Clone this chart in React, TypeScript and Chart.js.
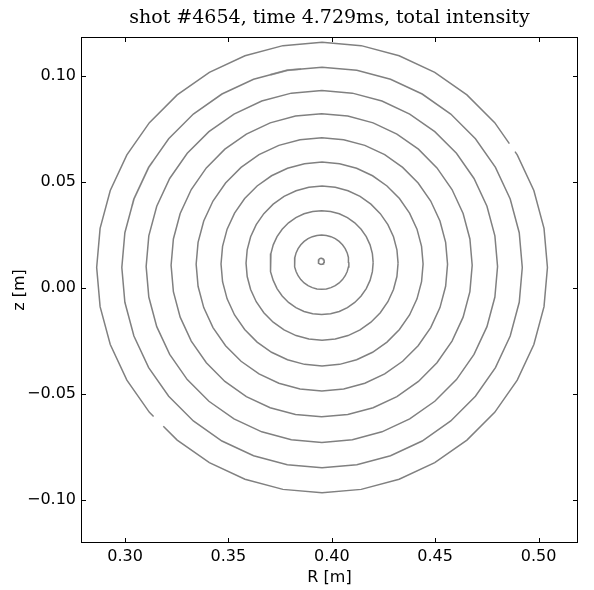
import React, { useEffect, useRef } from "react";
import { Chart, registerables } from "chart.js";

Chart.register(...registerables);

// ---- text ----
const titleText = "shot #4654, time 4.729ms, total intensity";
const xLabel = "R [m]";
const yLabel = "z [m]";

// ---- axes ----
const xTicks = [0.3, 0.35, 0.4, 0.45, 0.5];
const yTicks = [-0.1, -0.05, 0.0, 0.05, 0.1];
const xRange = [0.2787, 0.5191];
const yRange = [-0.1204, 0.1185];

// ---- contour rings (outer -> inner, last is the tiny core ring) ----
const ringCenterR = [0.3953, 0.3953, 0.3952, 0.3951, 0.3952, 0.3953, 0.3953, 0.3951, 0.3951, 0.3949];
const ringCenterZ = [0.00967, 0.00967, 0.01017, 0.01071, 0.01118, 0.01132, 0.01172, 0.01198, 0.01219, 0.01259];
const ringRadiusR = [0.10902, 0.09685, 0.08499, 0.07282, 0.0608, 0.04887, 0.03677, 0.02492, 0.01316, 0.00145];
const ringRadiusZ = [0.10637, 0.09458, 0.08309, 0.07156, 0.05976, 0.04811, 0.03639, 0.02453, 0.01281, 0.00142];
const vertexStepDeg = 10;

// breaks in the drawn contours (ring index, angle range in degrees)
const gapRing = [0, 0];
const gapFromDeg = [31, 221.5];
const gapToDeg = [33.5, 225];

// faded stretches of contours
const fadeRing = [1, 1];
const fadeFromDeg = [96, 148];
const fadeToDeg = [105, 162];
const fadeColor = ["#b8b8b8", "#e0e0e0"];

const lineColor = "#808080";

function vertex(i: number, k: number) {
  const a = (k * vertexStepDeg * Math.PI) / 180;
  return {
    x: ringCenterR[i] + ringRadiusR[i] * Math.cos(a),
    y: ringCenterZ[i] + ringRadiusZ[i] * Math.sin(a),
  };
}

function pointAt(i: number, deg: number) {
  const k0 = Math.floor(deg / vertexStepDeg);
  const t = (deg - k0 * vertexStepDeg) / vertexStepDeg;
  const p0 = vertex(i, k0);
  const p1 = vertex(i, k0 + 1);
  return { x: p0.x + (p1.x - p0.x) * t, y: p0.y + (p1.y - p0.y) * t };
}

function ringPoints(i: number) {
  const pts: any[] = [];
  const n = 360 / vertexStepDeg;
  for (let k = 0; k <= n; k++) {
    pts.push(vertex(i, k));
    if (k === n) break;
    const a0 = k * vertexStepDeg;
    const a1 = a0 + vertexStepDeg;
    gapRing.forEach((r, g) => {
      if (r === i && gapFromDeg[g] > a0 && gapFromDeg[g] < a1) {
        const s = pointAt(i, gapFromDeg[g]);
        const e = pointAt(i, gapToDeg[g]);
        pts.push(s);
        pts.push({ x: s.x, y: null });
        pts.push(e);
      }
    });
  }
  return pts;
}

function fadePoints(f: number) {
  const i = fadeRing[f];
  const pts: any[] = [pointAt(i, fadeFromDeg[f])];
  for (let a = Math.ceil(fadeFromDeg[f] / vertexStepDeg) * vertexStepDeg; a < fadeToDeg[f]; a += vertexStepDeg) {
    pts.push(vertex(i, a / vertexStepDeg));
  }
  pts.push(pointAt(i, fadeToDeg[f]));
  return pts;
}

const fmt = (v: number) => {
  const s = Math.abs(v) < 1e-9 ? "0.00" : v.toFixed(2);
  return s.replace("-", "\u2212");
};

const framePlugin = {
  id: "frameTicksTitle",
  afterDatasetsDraw(chart: any) {
    const { ctx, chartArea } = chart;
    const { left, right, top, bottom } = chartArea;
    const xs = chart.scales.x;
    const ys = chart.scales.y;
    ctx.save();
    ctx.strokeStyle = "#000";
    ctx.lineWidth = 1;
    ctx.strokeRect(left + 0.5, top + 0.5, right - left - 1, bottom - top - 1);
    const L = 5;
    ctx.beginPath();
    xTicks.forEach((v) => {
      const p = Math.round(xs.getPixelForValue(v)) + 0.5;
      ctx.moveTo(p, bottom);
      ctx.lineTo(p, bottom - L);
      ctx.moveTo(p, top);
      ctx.lineTo(p, top + L);
    });
    yTicks.forEach((v) => {
      const p = Math.round(ys.getPixelForValue(v)) + 0.5;
      ctx.moveTo(left, p);
      ctx.lineTo(left + L, p);
      ctx.moveTo(right, p);
      ctx.lineTo(right - L, p);
    });
    ctx.stroke();
    ctx.fillStyle = "#000";
    ctx.font = '19px "DejaVu Serif"';
    ctx.textAlign = "center";
    ctx.textBaseline = "middle";
    ctx.fillText(titleText, (left + right) / 2, 18);
    ctx.restore();
  },
};

export default function App() {
  const ref = useRef<HTMLCanvasElement | null>(null);
  useEffect(() => {
    if (!ref.current) return;
    const datasets: any[] = [];
    ringCenterR.forEach((_, i) => {
      datasets.push({
        data: ringPoints(i),
        showLine: true,
        borderColor: lineColor,
        borderWidth: 1.5,
        pointRadius: 0,
        tension: 0,
        fill: false,
        spanGaps: false,
      });
    });
    fadeRing.forEach((_, f) => {
      datasets.push({
        data: fadePoints(f),
        showLine: true,
        borderColor: fadeColor[f],
        borderWidth: 2,
        pointRadius: 0,
        tension: 0,
        fill: false,
      });
    });
    const chart = new Chart(ref.current, {
      type: "scatter",
      data: { datasets },
      plugins: [framePlugin],
      options: {
        animation: false,
        responsive: false,
        devicePixelRatio: 1,
        layout: { padding: { top: 37, right: 16, left: 0, bottom: 0 } },
        plugins: { legend: { display: false }, tooltip: { enabled: false }, title: { display: false } },
        scales: {
          x: {
            type: "linear",
            min: xRange[0],
            max: xRange[1],
            grid: { display: false, drawTicks: false },
            border: { display: false },
            afterBuildTicks: (s: any) => {
              s.ticks = xTicks.map((v) => ({ value: v }));
            },
            afterFit: (s: any) => {
              s.height = 47;
            },
            ticks: {
              callback: (v: any) => fmt(Number(v)),
              color: "#000",
              padding: 4.4,
              maxRotation: 0,
              autoSkip: false,
              font: { family: '"DejaVu Sans"', size: 16 },
            },
            title: {
              display: true,
              text: xLabel,
              color: "#000",
              font: { family: '"DejaVu Sans"', size: 16 },
              padding: { top: 0, bottom: 2.4 },
            },
          },
          y: {
            type: "linear",
            min: yRange[0],
            max: yRange[1],
            grid: { display: false, drawTicks: false },
            border: { display: false },
            afterBuildTicks: (s: any) => {
              s.ticks = yTicks.map((v) => ({ value: v }));
            },
            afterFit: (s: any) => {
              s.width = 81;
            },
            ticks: {
              callback: (v: any) => fmt(Number(v)),
              color: "#000",
              padding: 5,
              autoSkip: false,
              font: { family: '"DejaVu Sans"', size: 16 },
            },
            title: {
              display: true,
              text: yLabel,
              color: "#000",
              font: { family: '"DejaVu Sans"', size: 16 },
              padding: { top: 10.4, bottom: 0 },
            },
          },
        },
      },
    });
    return () => chart.destroy();
  }, []);
  return (
    <div style={{ position: "absolute", left: 0, top: 0, width: 594, height: 590, background: "#fff" }}>
      <canvas ref={ref} width={594} height={590} style={{ width: 594, height: 590, display: "block" }} />
    </div>
  );
}
